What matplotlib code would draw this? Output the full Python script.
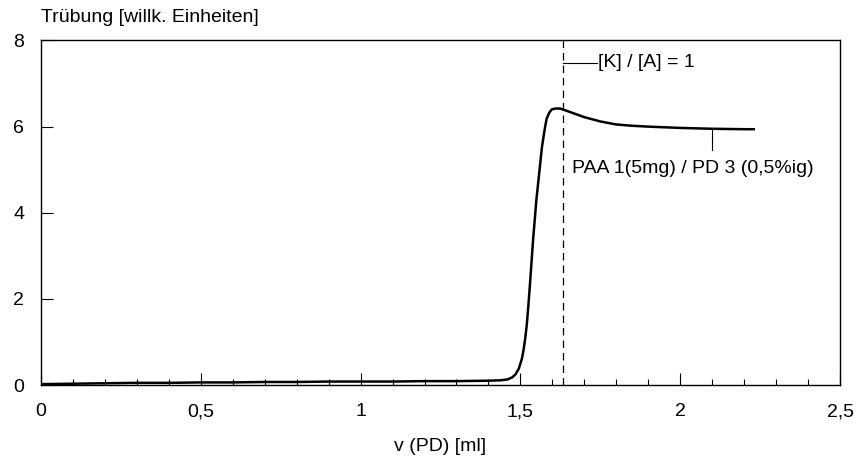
import matplotlib
matplotlib.use("Agg")
import matplotlib.pyplot as plt
from matplotlib.ticker import MultipleLocator, FuncFormatter

plt.rcParams['font.family'] = ['Liberation Sans', 'DejaVu Sans']

# titration curve
v_pd = [0, 0.1, 0.2, 0.3, 0.4, 0.5, 0.6, 0.7, 0.8, 0.9, 1.0, 1.1, 1.2, 1.3,
        1.4, 1.44, 1.46, 1.475, 1.485, 1.495, 1.505, 1.51, 1.515, 1.52,
        1.525, 1.53, 1.54, 1.55, 1.56, 1.567, 1.572, 1.577, 1.582, 1.59,
        1.598, 1.61, 1.624, 1.64, 1.67, 1.70, 1.75, 1.80, 1.85, 1.90, 2.0,
        2.1, 2.2, 2.23]
truebung = [0.02, 0.03, 0.04, 0.05, 0.05, 0.06, 0.06, 0.07, 0.07, 0.08, 0.08,
            0.08, 0.09, 0.09, 0.10, 0.11, 0.13, 0.18, 0.25, 0.38, 0.62, 0.82,
            1.08, 1.4, 1.85, 2.35, 3.4, 4.3, 5.0, 5.5, 5.75, 5.98, 6.18, 6.32,
            6.40, 6.42, 6.42, 6.38, 6.30, 6.22, 6.12, 6.05, 6.02, 6.00, 5.97,
            5.95, 5.94, 5.94]

x_equiv = 1.633
label_equiv = "[K] / [A] = 1"
label_curve = "PAA 1(5mg) / PD 3 (0,5%ig)"

fs = 14

fig = plt.figure(figsize=(8.58, 4.61), dpi=100)
ax = fig.add_axes([41 / 858, 76 / 461, 799 / 858, 344.5 / 461])

ax.plot(v_pd, truebung, color='black', linewidth=1.8)
ax.axvline(x_equiv, color='black', linewidth=0.9, linestyle=(0, (6, 4)))

# annotations with leader lines
ax.plot([x_equiv, 1.74], [7.48, 7.48], color='black', linewidth=0.8)
ax.text(1.743, 7.48, label_equiv, fontsize=fs, va='center', ha='left')
ax.plot([2.10, 2.10], [5.92, 5.45], color='black', linewidth=0.8)
ax.text(1.66, 5.03, label_curve, fontsize=fs, va='center', ha='left')

ax.set_xlim(0, 2.5)
ax.set_ylim(0, 8)
ax.xaxis.set_major_locator(MultipleLocator(0.5))
ax.xaxis.set_minor_locator(MultipleLocator(0.1))
ax.yaxis.set_major_locator(MultipleLocator(2))
fmt = FuncFormatter(lambda v, p: ('%g' % v).replace('.', ','))
ax.xaxis.set_major_formatter(fmt)
ax.yaxis.set_major_formatter(fmt)
ax.tick_params(axis='both', which='major', direction='in', length=8.5,
               width=0.8, labelsize=fs)
ax.tick_params(axis='x', which='major', pad=13)
ax.tick_params(axis='x', which='minor', direction='in', length=4.3, width=0.8)
ax.tick_params(axis='y', which='major', pad=12)
for s in ax.spines.values():
    s.set_linewidth(1.0)

fig.text(41 / 858, 1 - 18 / 461, "Trübung [willk. Einheiten]", fontsize=fs,
         va='center', ha='left')
ax.set_xlabel("v (PD) [ml]", fontsize=fs, labelpad=13)

fig.savefig("out.png", dpi=100)
